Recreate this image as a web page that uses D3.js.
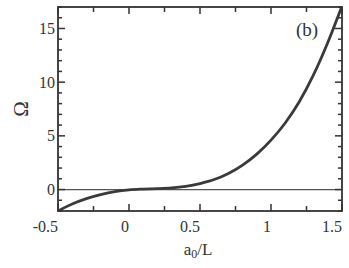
<!DOCTYPE html>
<html><head><meta charset="utf-8">
<script src="https://cdn.jsdelivr.net/npm/d3@7"></script>
<style>body{margin:0;background:#fff}svg{display:block}text{font-family:"Liberation Serif","Times New Roman",serif;fill:#333}</style>
</head><body>
<svg id="c" width="349" height="268"></svg>
<script>
const xs = [-0.5,-0.4,-0.3,-0.2,-0.1,0,0.1,0.2,0.3,0.4,0.5,0.6,0.7,0.8,0.9,1.0,1.1,1.2,1.3,1.4,1.5];
const omega = [-2.0,-1.35,-0.85,-0.48,-0.2,-0.03,0.04,0.08,0.15,0.3,0.56,0.93,1.5,2.28,3.3,4.6,6.2,8.2,10.7,13.7,17.1];
const xTickLabels = [-0.5,0,0.5,1,1.5];
const yTickLabels = [0,5,10,15];

const svg = d3.select("#c");
const L=58,R=342,T=7,B=211;
const x = d3.scaleLinear().domain([-0.5,1.5]).range([L,R]);
const y = d3.scaleLinear().domain([-2,17]).range([B,T]);
const col="#333";

svg.append("defs").append("clipPath").attr("id","cp").append("rect").attr("x",L).attr("y",T).attr("width",R-L).attr("height",B-T);

svg.append("line").attr("x1",L).attr("x2",R).attr("y1",y(0)).attr("y2",y(0)).attr("stroke","#555").attr("stroke-width",1.3);

const pts = xs.map((v,i)=>[v,omega[i]]);
svg.append("path").datum(pts).attr("clip-path","url(#cp)")
  .attr("d",d3.line().x(d=>x(d[0])).y(d=>y(d[1])).curve(d3.curveMonotoneX))
  .attr("fill","none").attr("stroke","#3a3a3a").attr("stroke-width",2.8);

const g = svg.append("g").attr("stroke",col).attr("stroke-width",1.5);
d3.range(-0.5,1.5001,0.25).forEach(v=>{
  const major = Math.abs(v*2-Math.round(v*2))<1e-6;
  const len = major?7:5;
  g.append("line").attr("x1",x(v)).attr("x2",x(v)).attr("y1",B).attr("y2",B-len);
  g.append("line").attr("x1",x(v)).attr("x2",x(v)).attr("y1",T).attr("y2",T+len);
});
d3.range(-2,17.001,1).forEach(v=>{
  const major = v%5===0;
  const len = major?7:4;
  g.append("line").attr("y1",y(v)).attr("y2",y(v)).attr("x1",L).attr("x2",L+len);
  g.append("line").attr("y1",y(v)).attr("y2",y(v)).attr("x1",R).attr("x2",R-len);
});
svg.append("rect").attr("x",L).attr("y",T).attr("width",R-L).attr("height",B-T).attr("fill","none").attr("stroke",col).attr("stroke-width",1.8);

xTickLabels.forEach(v=>{
  svg.append("text").attr("x",x(v)).attr("y",232).attr("text-anchor","end").attr("font-size",16).text(v);
});
yTickLabels.forEach(v=>{
  svg.append("text").attr("x",55).attr("y",y(v)+5.5).attr("text-anchor","end").attr("font-size",16).text(v);
});
svg.append("text").attr("transform","translate(28,109) rotate(-90)").attr("text-anchor","middle").attr("font-size",21).text("Ω");
const xl = svg.append("text").attr("x",198).attr("y",255).attr("text-anchor","middle").attr("font-size",17);
xl.append("tspan").text("a");
xl.append("tspan").attr("font-size",12).attr("dy",3).text("0");
xl.append("tspan").attr("dy",-3).text("/L");
svg.append("text").attr("x",307).attr("y",36).attr("text-anchor","middle").attr("font-size",19).text("(b)");
</script>
</body></html>
